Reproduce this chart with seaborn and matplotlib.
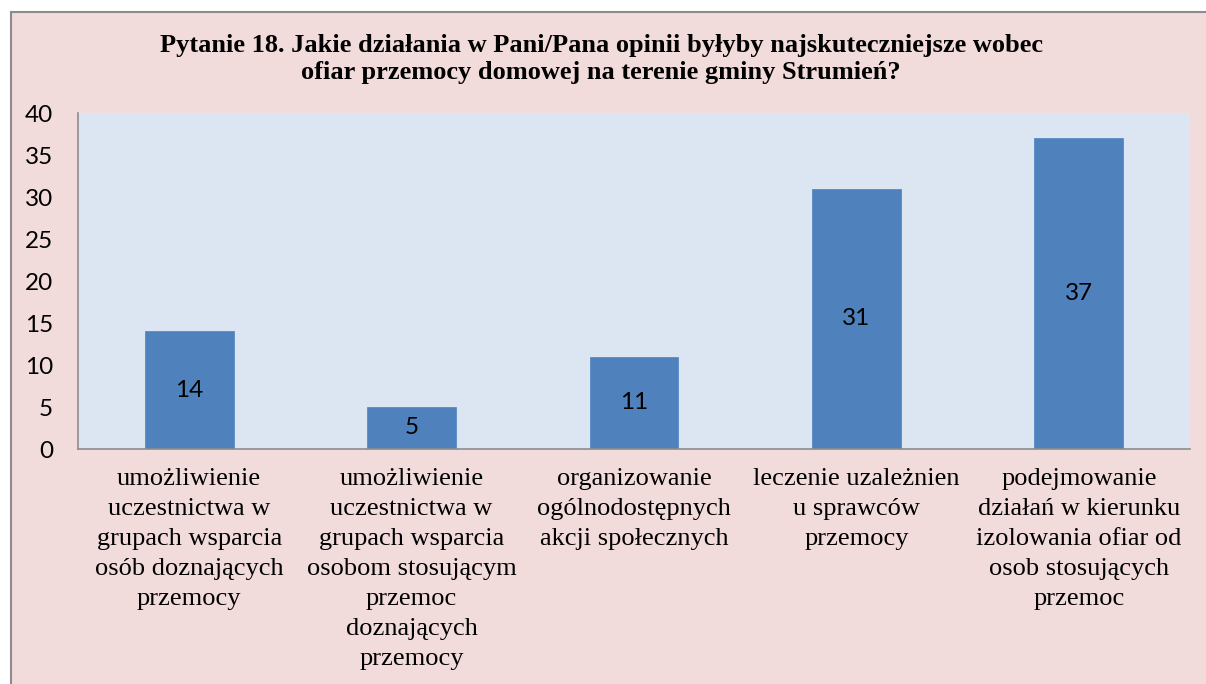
import numpy as np
import pandas as pd
import matplotlib
matplotlib.use("Agg")
import matplotlib.pyplot as plt
from matplotlib.patches import Rectangle
import seaborn as sns

categories = [
    "umożliwienie\nuczestnictwa w\ngrupach wsparcia\nosób doznających\nprzemocy",
    "umożliwienie\nuczestnictwa w\ngrupach wsparcia\nosobom stosującym\nprzemoc\ndoznających\nprzemocy",
    "organizowanie\nogólnodostępnych\nakcji społecznych",
    "leczenie uzależnien\nu sprawców\nprzemocy",
    "podejmowanie\ndziałań w kierunku\nizolowania ofiar od\nosob stosujących\nprzemoc",
]
values = [14, 5, 11, 31, 37]
y_ticks = [0, 5, 10, 15, 20, 25, 30, 35, 40]
title = ("Pytanie 18. Jakie działania w Pani/Pana opinii byłyby najskuteczniejsze wobec\n"
         "ofiar przemocy domowej na terenie gminy Strumień?")

sns.set_style("white")
plt.rcParams.update({"text.color": "black", "xtick.labelcolor": "black",
                     "ytick.labelcolor": "black"})

PINK = "#F2DCDB"
PLOT_BG = "#DCE6F2"
BAR = "#4F81BD"
GREY = "#8C8C8C"

fig = plt.figure(figsize=(12.06, 6.84), dpi=100, facecolor="white")
W, H = 1206, 684

# chart frame (pink area with grey border, runs off the right/bottom edge)
fig.patches.append(Rectangle((11 / W, -0.05), 1.1, (H - 12) / H + 0.05,
                             transform=fig.transFigure, facecolor=PINK,
                             edgecolor=GREY, linewidth=1.5, zorder=-10))

ax = fig.add_axes([78 / W, (H - 449) / H, (1190 - 78) / W, (449 - 113) / H])
ax.set_facecolor(PLOT_BG)

df = pd.DataFrame({"cat": categories, "val": values})
sns.barplot(data=df, x="cat", y="val", color=BAR, width=0.4, saturation=1,
            edgecolor="#5A8AC6", linewidth=0.6, ax=ax)

for i, v in enumerate(values):
    ax.text(i, v / 2, str(v), ha="center", va="center", fontsize=17.5,
            family=["Lato", "DejaVu Sans"], color="black")

ax.set_ylim(0, 40)
ax.set_xlim(-0.5, len(categories) - 0.5)
ax.set_yticks(y_ticks)
ax.set_yticklabels([str(t) for t in y_ticks], fontsize=17.5,
                   family=["Lato", "DejaVu Sans"], color="black")
ax.set_xticks(range(len(categories)))
ax.set_xticklabels(categories, fontsize=19, family=["Liberation Serif", "DejaVu Serif"],
                   linespacing=1.47, color="black")
ax.set_xticks(np.arange(-0.5, len(categories)), minor=True)
ax.tick_params(axis="x", which="major", length=0, pad=14)
ax.tick_params(axis="x", which="minor", length=6, color=GREY, width=1.2, direction="out")
ax.tick_params(axis="y", length=8, color=GREY, width=1.2, direction="out", pad=10)
ax.set_xlabel("")
ax.set_ylabel("")

for s in ["top", "right"]:
    ax.spines[s].set_visible(False)
for s in ["left", "bottom"]:
    ax.spines[s].set_color(GREY)
    ax.spines[s].set_linewidth(1.2)

fig.text(601 / W, (H - 34) / H, title, ha="center", va="top", fontsize=19,
         fontweight="bold", family=["Liberation Serif", "DejaVu Serif"],
         linespacing=1.22, color="black")

fig.savefig("out.png", dpi=100, facecolor=fig.get_facecolor())
